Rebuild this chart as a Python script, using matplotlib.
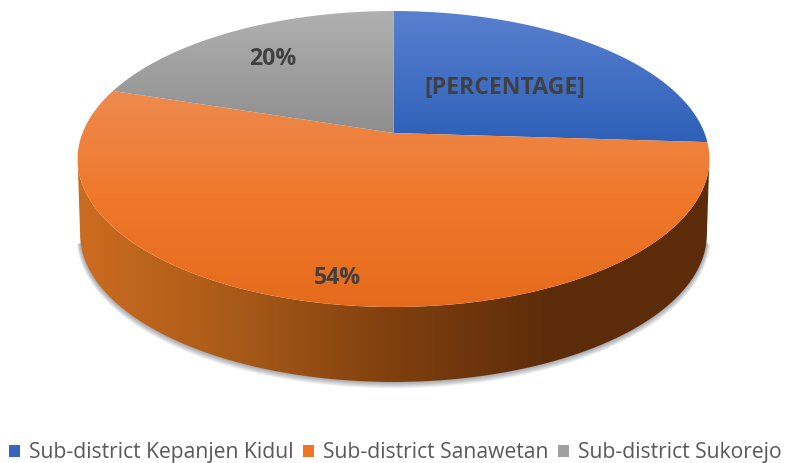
import numpy as np
from matplotlib import pyplot as plt
from matplotlib.colors import LinearSegmentedColormap
from matplotlib.patches import Patch, Polygon

names = ['Sub-district Kepanjen Kidul', 'Sub-district Sanawetan', 'Sub-district Sukorejo']
shares = [26, 54, 20]
labels = ['[PERCENTAGE]', '54%', '20%']
legend_colors = ['#3565c0', '#ef7623', '#a0a0a0']

# vertical gradients for the top faces, top to bottom of each slice
top_colors = [
    ['#5a80cf', '#2d60b8'],
    ['#ee8a4e', '#f0782a', '#e56a1c'],
    ['#b0b0b0', '#8e8e8e'],
]
side_colors = ['#cc6c20', '#a85a18', '#7f3f0e', '#5c2c0a', '#5c2c0a']

W, H = 789, 463
cx, cy = 393.5, 133      # where the slices meet
a, b, k = 311, 143.4, 0.1757   # tilt of the pie
depth = 75


def project(x, y):
    w = 1 + k * y
    return cx + a * x / w, cy - b * y / w


def slice_path(start, stop):
    # angles clockwise from 12 o'clock, in fractions of the circle
    t = 2 * np.pi * np.linspace(start, stop, 200)
    px, py = project(np.sin(t), np.cos(t))
    return np.column_stack([np.r_[cx, px], np.r_[cy, py]])


fig = plt.figure(figsize=(W / 100, H / 100), dpi=100)
ax = fig.add_axes([0, 0, 1, 1])
ax.axis('off')

# whole rim
t = np.linspace(0, 2 * np.pi, 721)
rx, ry = project(np.sin(t), np.cos(t))
right = np.argmax(rx)
left = np.argmin(rx)
arc_x, arc_y = rx[right:left + 1], ry[right:left + 1]
low_x = cx + (arc_x - cx) * 0.992
low_y = arc_y + depth

# soft shadow under the side wall
for i in range(6, 0, -1):
    ax.plot(low_x[6:-6], low_y[6:-6] + i * 0.4, color='#303840',
            alpha=0.08, lw=i * 0.9, solid_capstyle='butt', zorder=1)

side = Polygon(np.column_stack([np.r_[arc_x, low_x[::-1]], np.r_[arc_y, low_y[::-1]]]),
               transform=ax.transData, fc='none', ec='none')
ax.add_patch(side)
grad = np.linspace(0, 1, 256)[None, :]
im = ax.imshow(grad, extent=[78, 710, 400, 100], aspect='auto', zorder=2,
               cmap=LinearSegmentedColormap.from_list('side', side_colors))
im.set_clip_path(side)

edges = np.r_[0, np.cumsum(shares)] / sum(shares)
vert = np.linspace(0, 1, 256)[:, None]
for i in range(len(shares)):
    pts = slice_path(edges[i], edges[i + 1])
    patch = Polygon(pts, transform=ax.transData, fc='none', ec='none')
    ax.add_patch(patch)
    y0, y1 = pts[:, 1].min(), pts[:, 1].max()
    im = ax.imshow(vert, extent=[70, 720, y1, y0], aspect='auto', zorder=3,
                   cmap=LinearSegmentedColormap.from_list('top%d' % i, top_colors[i]))
    im.set_clip_path(patch)

label_xy = [(504.5, 88), (337, 278), (273, 59)]
for txt, (lx, ly) in zip(labels, label_xy):
    ax.text(lx, ly, txt, ha='center', va='center', color='#404040', fontsize=16.6,
            fontweight='bold', family='Open Sans', zorder=5)

ax.set_xlim(0, W)
ax.set_ylim(H, 0)

handles = [Patch(fc=c, ec='none') for c in legend_colors]
fig.legend(handles, names, ncol=3, loc='lower left', bbox_to_anchor=(0.0112, -0.001),
           frameon=False, prop={'family': 'Open Sans', 'size': 15.2}, labelcolor='#595959',
           handlelength=0.55, handleheight=0.55, handletextpad=0.42, columnspacing=0.42,
           borderpad=0, borderaxespad=0)

fig.savefig('out.png', dpi=100)
